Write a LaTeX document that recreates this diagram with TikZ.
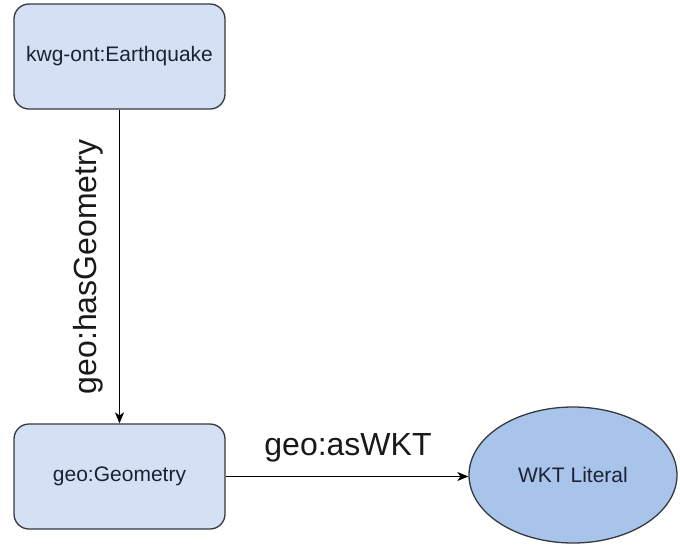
\documentclass[tikz,border=0pt]{standalone}
\usepackage{fontspec}
\setmainfont{Liberation Sans}
\usetikzlibrary{shapes.geometric,arrows.meta}
\definecolor{boxfill}{HTML}{D4E1F5}
\definecolor{ovalfill}{HTML}{A9C4EB}
\definecolor{edgeline}{HTML}{36393D}
\definecolor{nodetext}{HTML}{1C2233}
\tikzset{
  classbox/.style={draw=edgeline, fill=boxfill, line width=1.3pt, rounded corners=15pt,
    minimum width=211pt, minimum height=105pt, inner sep=0pt,
    font=\fontsize{21}{25}\selectfont, text=nodetext},
  literal/.style={draw=edgeline, fill=ovalfill, ellipse, line width=1.3pt,
    minimum width=208pt, minimum height=136pt, inner sep=0pt,
    font=\fontsize{21}{25}\selectfont, text=nodetext},
  link/.style={draw=black, line width=1.2pt, -{Stealth[length=11pt,width=9pt,inset=3pt]}},
  linklabel/.style={font=\fontsize{32}{38}\selectfont, text=black!90}
}
\begin{document}
\begin{tikzpicture}[x=1pt,y=-1pt]
  \useasboundingbox (0,0) rectangle (680,547);
  \node[classbox] (quake) at (119.5,56.5) {kwg-ont:Earthquake};
  \node[classbox] (geom) at (119.5,476.5) {geo:Geometry};
  \node[literal] (wkt) at (573,475) {WKT Literal};
  \draw[link] (quake) -- (geom);
  \draw[link] (geom.east) -- (wkt.west |- geom.east);
  \node[linklabel, rotate=90] (lblhas) at (88,267) {geo:hasGeometry};
  \node[linklabel] (lblwkt) at (348,448) {geo:asWKT};
\end{tikzpicture}
\end{document}
